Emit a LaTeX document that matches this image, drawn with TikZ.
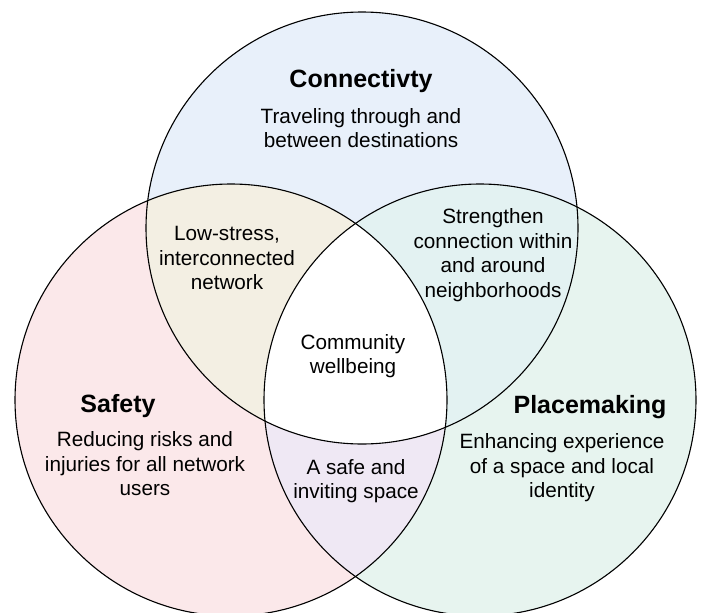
\documentclass[tikz,border=0pt]{standalone}
\usepackage{fontspec}
\setmainfont{Liberation Sans}
\definecolor{connblue}{HTML}{E8F0FA}
\definecolor{safepink}{HTML}{FBE8EA}
\definecolor{placegreen}{HTML}{E7F4EF}
\definecolor{cstan}{HTML}{F3EFE3}
\definecolor{cpteal}{HTML}{E3F2F2}
\definecolor{splav}{HTML}{EFE8F4}

\begin{document}
\begin{tikzpicture}[x=1pt,y=-1pt]
\tikzstyle{txt}=[align=center,inner sep=0pt,font=\fontsize{20.7}{24.5}\selectfont]
\tikzstyle{ttl}=[inner sep=0pt,font=\fontsize{25}{30}\selectfont\bfseries]
\tikzstyle{ring}=[line width=1.1pt]

\useasboundingbox (0,0) rectangle (702,613);
\clip (0,0) rectangle (702,613);

\coordinate (C) at (362,228);
\coordinate (S) at (231,400);
\coordinate (P) at (480,400);

\fill[connblue] (C) circle[radius=216pt];
\fill[safepink] (S) circle[radius=216pt];
\fill[placegreen] (P) circle[radius=216pt];
\begin{scope}
  \clip (S) circle[radius=216pt];
  \fill[splav] (P) circle[radius=216pt];
\end{scope}
\begin{scope}
  \clip (C) circle[radius=216pt];
  \fill[cstan] (S) circle[radius=216pt];
  \fill[cpteal] (P) circle[radius=216pt];
  \clip (S) circle[radius=216pt];
  \fill[white] (P) circle[radius=216pt];
\end{scope}
\foreach \c in {C,S,P} {
  \draw[ring] (\c) circle[radius=216pt];
}

\node[ttl] (conn) at (361,80.6) {Connectivty};
\node[txt] (conntxt) at (361,128) {Traveling through and\\between destinations};
\node[txt] (cs) at (227,258) {Low-stress,\\interconnected\\network};
\node[txt] (cp) at (493,255) {Strengthen\\connection within\\and around\\neighborhoods};
\node[txt] (all) at (353,356) {Community\\wellbeing};
\node[txt] (sp) at (356,481) {A safe and\\inviting space};
\node[ttl] (safe) at (118,405.6) {Safety};
\node[txt] (safetxt) at (145,464) {Reducing risks and\\injuries for all network\\users};
\node[ttl] (place) at (590,406.6) {Placemaking};
\node[txt] (placetxt) at (562,468) {Enhancing experience\\of a space and local\\identity};
\end{tikzpicture}
\end{document}
